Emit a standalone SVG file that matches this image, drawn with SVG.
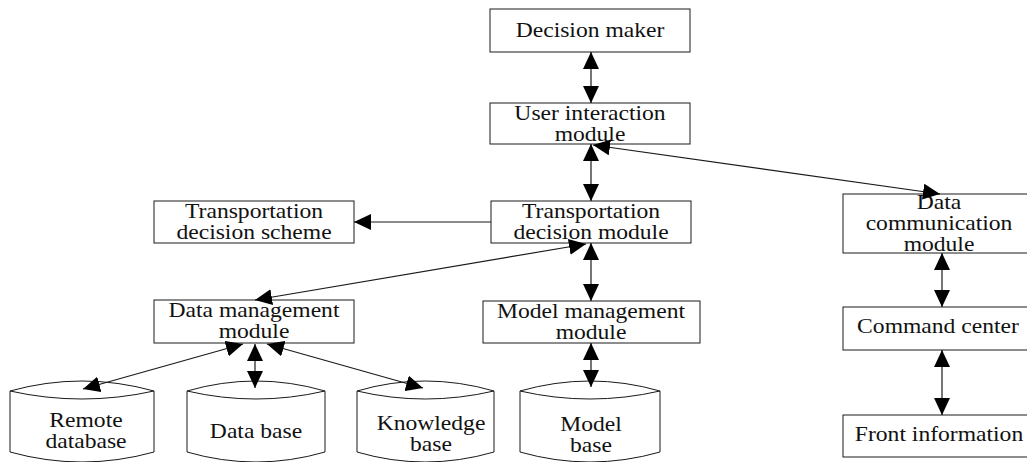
<svg xmlns="http://www.w3.org/2000/svg" width="1027" height="462" viewBox="0 0 1027 462">
<style>
.box{fill:#fff;stroke:#1a1a1a;stroke-width:1}
.cyl{fill:#fff;stroke:#1a1a1a;stroke-width:1}
.t{font-family:"Liberation Serif","Times New Roman",serif;font-size:20px;fill:#111;text-anchor:middle}
.c{fill:none;stroke:#1a1a1a;stroke-width:1.2}
</style>
<defs>
<marker id="ah" viewBox="0 0 17 16" refX="17" refY="8" markerWidth="17" markerHeight="16" markerUnits="userSpaceOnUse" orient="auto-start-reverse">
<path d="M0,0 L17,8 L0,16 z" fill="#000"/>
</marker>
</defs>
<rect width="1027" height="462" fill="#fff"/>

<g id="decision-maker">
<rect class="box" x="490" y="9" width="200" height="43"/>
<text class="t" transform="translate(590,37) scale(1.18,1)">Decision maker</text>
</g>
<g id="user-interaction">
<rect class="box" x="490" y="103" width="200" height="41"/>
<text class="t" transform="translate(590,120) scale(1.18,1)">User interaction</text>
<text class="t" transform="translate(590,141) scale(1.18,1)">module</text>
</g>
<g id="transport-scheme">
<rect class="box" x="154" y="201" width="200" height="42"/>
<text class="t" transform="translate(254,218) scale(1.18,1)">Transportation</text>
<text class="t" transform="translate(254,239) scale(1.18,1)">decision scheme</text>
</g>
<g id="transport-module">
<rect class="box" x="491" y="201" width="200" height="42"/>
<text class="t" transform="translate(591,218) scale(1.18,1)">Transportation</text>
<text class="t" transform="translate(591,239) scale(1.18,1)">decision module</text>
</g>
<g id="data-management">
<rect class="box" x="154" y="300" width="200" height="43"/>
<text class="t" transform="translate(254,317) scale(1.18,1)">Data management</text>
<text class="t" transform="translate(254,338) scale(1.18,1)">module</text>
</g>
<g id="model-management">
<rect class="box" x="483" y="301" width="217" height="42"/>
<text class="t" transform="translate(591,318) scale(1.18,1)">Model management</text>
<text class="t" transform="translate(591,339) scale(1.18,1)">module</text>
</g>
<g id="data-communication">
<rect class="box" x="843" y="194" width="194" height="59"/>
<text class="t" transform="translate(939,209) scale(1.18,1)">Data</text>
<text class="t" transform="translate(939,230) scale(1.18,1)">communication</text>
<text class="t" transform="translate(939,251) scale(1.18,1)">module</text>
</g>
<g id="command-center">
<rect class="box" x="843" y="307" width="194" height="43"/>
<text class="t" transform="translate(938,333) scale(1.18,1)">Command center</text>
</g>
<g id="front-information">
<rect class="box" x="843" y="415" width="194" height="42"/>
<text class="t" transform="translate(939,441) scale(1.18,1)">Front information</text>
</g>

<g id="remote-database">
<path class="cyl" d="M10,391 L10,452 Q82,472 154,452 L154,391 Q82,371 10,391 Z"/>
<path class="cyl" d="M10,391 Q82,407 154,391" fill="none"/>
<text class="t" transform="translate(86,427) scale(1.18,1)">Remote</text>
<text class="t" transform="translate(86,448) scale(1.18,1)">database</text>
</g>
<g id="data-base">
<path class="cyl" d="M187,391 L187,452 Q256,472 325,452 L325,391 Q256,371 187,391 Z"/>
<path class="cyl" d="M187,391 Q256,407 325,391" fill="none"/>
<text class="t" transform="translate(256,438) scale(1.18,1)">Data base</text>
</g>
<g id="knowledge-base">
<path class="cyl" d="M357,391 L357,452 Q425,472 494,452 L494,391 Q425,371 357,391 Z"/>
<path class="cyl" d="M357,391 Q425,407 494,391" fill="none"/>
<text class="t" transform="translate(431,430) scale(1.18,1)">Knowledge</text>
<text class="t" transform="translate(431,451) scale(1.18,1)">base</text>
</g>
<g id="model-base">
<path class="cyl" d="M520,391 L520,452 Q590,472 660,452 L660,391 Q590,371 520,391 Z"/>
<path class="cyl" d="M520,391 Q590,407 660,391" fill="none"/>
<text class="t" transform="translate(591,431) scale(1.18,1)">Model</text>
<text class="t" transform="translate(591,452) scale(1.18,1)">base</text>
</g>

<g id="connectors">
<line class="c" x1="591" y1="52" x2="591" y2="103" marker-start="url(#ah)" marker-end="url(#ah)"/>
<line class="c" x1="591" y1="144" x2="591" y2="201" marker-start="url(#ah)" marker-end="url(#ah)"/>
<line class="c" x1="593" y1="145" x2="940" y2="194" marker-start="url(#ah)" marker-end="url(#ah)"/>
<line class="c" x1="491" y1="222" x2="354" y2="222" marker-end="url(#ah)"/>
<line class="c" x1="586" y1="244" x2="255" y2="300" marker-start="url(#ah)" marker-end="url(#ah)"/>
<line class="c" x1="591" y1="243" x2="591" y2="301" marker-start="url(#ah)" marker-end="url(#ah)"/>
<line class="c" x1="591" y1="343" x2="591" y2="387" marker-start="url(#ah)" marker-end="url(#ah)"/>
<line class="c" x1="243" y1="344" x2="83" y2="389" marker-start="url(#ah)" marker-end="url(#ah)"/>
<line class="c" x1="255" y1="344" x2="255" y2="388" marker-start="url(#ah)" marker-end="url(#ah)"/>
<line class="c" x1="267" y1="344" x2="423" y2="388" marker-start="url(#ah)" marker-end="url(#ah)"/>
<line class="c" x1="942" y1="253" x2="942" y2="307" marker-start="url(#ah)" marker-end="url(#ah)"/>
<line class="c" x1="942" y1="350" x2="942" y2="415" marker-start="url(#ah)" marker-end="url(#ah)"/>
</g>
</svg>
